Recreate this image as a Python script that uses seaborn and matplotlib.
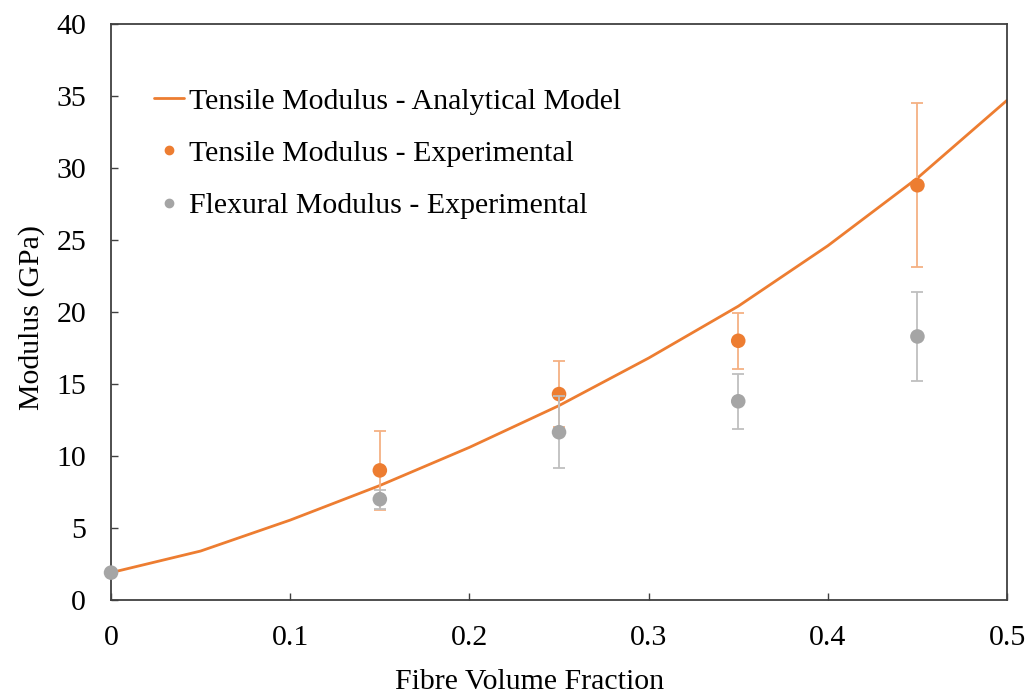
import numpy as np
import pandas as pd
import seaborn as sns
import matplotlib.pyplot as plt
from matplotlib.lines import Line2D

# analytical model
model_vf = [0, 0.05, 0.1, 0.15, 0.2, 0.25, 0.3, 0.35, 0.4, 0.45, 0.5]
model_E = [1.9, 3.4, 5.55, 7.95, 10.6, 13.5, 16.8, 20.4, 24.6, 29.3, 34.7]

# experimental
tens_vf = [0.15, 0.25, 0.35, 0.45]
tens_E = [9.0, 14.3, 18.0, 28.8]
tens_err = [2.75, 2.3, 1.95, 5.7]

flex_vf = [0, 0.15, 0.25, 0.35, 0.45]
flex_E = [1.9, 7.0, 11.65, 13.8, 18.3]
flex_err = [0, 0.65, 2.5, 1.9, 3.1]

orange = '#ED7D31'
grey = '#A5A5A5'

sns.set_style('ticks')
plt.rcParams['font.family'] = ['Liberation Serif', 'DejaVu Serif']
plt.rcParams['text.color'] = 'black'
plt.rcParams['axes.labelcolor'] = 'black'

fs = 21.5

fig = plt.figure(figsize=(10.32, 6.95), dpi=100)
ax = fig.add_axes([0.1076, 0.1367, 0.8682, 0.8288])

sns.lineplot(x=model_vf, y=model_E, ax=ax, color=orange, lw=2, zorder=2)

ax.errorbar(tens_vf, tens_E, yerr=tens_err, fmt='none', ecolor='#F4B183',
            elinewidth=1.3, capsize=4, capthick=1.3, zorder=3)
sns.scatterplot(x=tens_vf, y=tens_E, ax=ax, color=orange, s=110,
                edgecolor='none', zorder=4)

ax.errorbar(flex_vf, flex_E, yerr=flex_err, fmt='none', ecolor='#BFBFBF',
            elinewidth=1.3, capsize=4, capthick=1.3, zorder=5)
sns.scatterplot(x=flex_vf, y=flex_E, ax=ax, color=grey, s=110,
                edgecolor='none', zorder=6, clip_on=False)

ax.set_xlim(0, 0.5)
ax.set_ylim(0, 40)
ax.set_xticks(np.arange(0, 0.51, 0.1))
ax.set_xticklabels(['0', '0.1', '0.2', '0.3', '0.4', '0.5'])
ax.set_yticks(range(0, 41, 5))
ax.tick_params(axis='both', labelsize=fs, direction='in', length=5,
               width=1, color='#404040', labelcolor='black')
ax.tick_params(axis='x', pad=18)
ax.tick_params(axis='y', pad=18)
for s in ax.spines.values():
    s.set_visible(True)
    s.set_color('#404040')
    s.set_linewidth(1.3)

ax.set_xlabel('Fibre Volume Fraction', fontsize=fs)
ax.xaxis.set_label_coords(0.4676, -0.12)
ax.set_ylabel('Modulus (GPa)', fontsize=fs)
ax.yaxis.set_label_coords(-0.074, 0.49)

handles = [
    Line2D([], [], color=orange, lw=2),
    Line2D([], [], color=orange, marker='o', ls='none', markersize=6),
    Line2D([], [], color=grey, marker='o', ls='none', markersize=6),
]
labels = ['Tensile Modulus - Analytical Model',
          'Tensile Modulus - Experimental',
          'Flexural Modulus - Experimental']
ax.legend(handles, labels, loc='upper left', bbox_to_anchor=(0.035, 0.91),
          frameon=False, fontsize=fs, handlelength=1.0, handletextpad=0.15,
          labelspacing=0.85, borderaxespad=0)

fig.savefig('out.png', dpi=100)
